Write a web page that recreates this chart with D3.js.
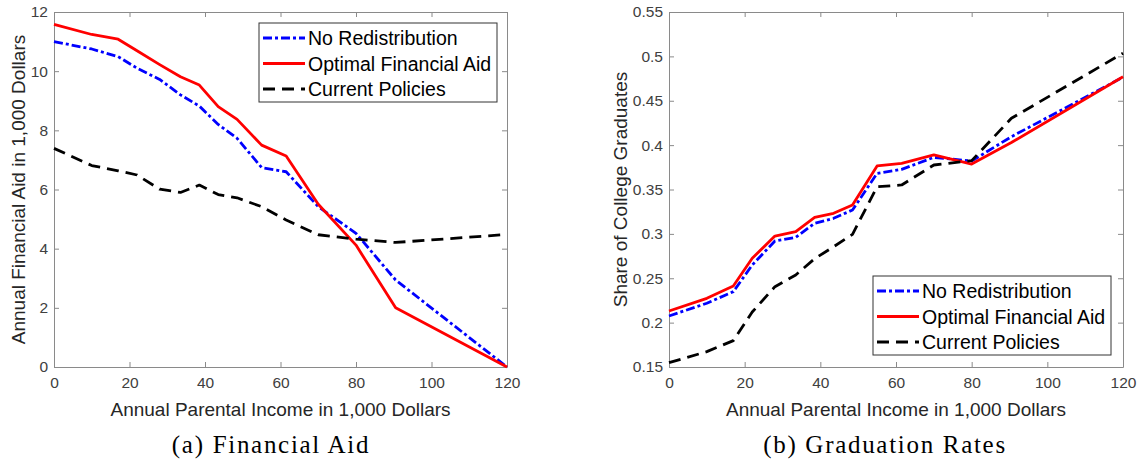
<!DOCTYPE html>
<html>
<head>
<meta charset="utf-8">
<script src="https://cdn.jsdelivr.net/npm/d3@7"></script>
<style>
  html, body { margin: 0; padding: 0; background: #fff; }
  svg { display: block; font-family: "Liberation Sans", Arial, Helvetica, sans-serif; }
</style>
</head>
<body>
<svg id="fig" width="1139" height="463"></svg>
<script>
// Parental income (thousand dollars) at which each series is evaluated
const income = [0, 10, 17, 22, 28, 33.5, 38.5, 43.5, 48.5, 55, 61.5, 70, 80, 90.5, 120];

// Panel (a): annual financial aid, thousand dollars
const aidNoRedistribution = [11.0, 10.75, 10.49, 10.1, 9.72, 9.2, 8.82, 8.2, 7.73, 6.74, 6.6, 5.42, 4.52, 2.94, 0];
const aidOptimal          = [11.58, 11.24, 11.08, 10.69, 10.22, 9.81, 9.53, 8.8, 8.37, 7.5, 7.13, 5.5, 4.12, 2.0, 0];
const aidCurrent          = [7.39, 6.81, 6.63, 6.49, 6.01, 5.9, 6.15, 5.83, 5.72, 5.42, 4.97, 4.47, 4.32, 4.21, 4.48];

// Panel (b): share of college graduates
const gradNoRedistribution = [0.2075, 0.2218, 0.2349, 0.2649, 0.292, 0.2961, 0.3119, 0.3175, 0.3269, 0.3682, 0.3727, 0.3862, 0.3821, 0.4095, 0.4765];
const gradOptimal          = [0.2131, 0.2274, 0.2413, 0.2725, 0.2976, 0.3025, 0.3187, 0.3232, 0.3325, 0.3765, 0.3795, 0.3889, 0.3787, 0.403, 0.477];
const gradCurrent          = [0.1549, 0.1673, 0.1797, 0.212, 0.2405, 0.2537, 0.272, 0.2855, 0.2995, 0.3531, 0.3551, 0.3776, 0.3825, 0.4302, 0.5036];

const seriesNames = ["No Redistribution", "Optimal Financial Aid", "Current Policies"];

const xTicks = [0, 20, 40, 60, 80, 100, 120];
const aidTicks = [0, 2, 4, 6, 8, 10, 12];
const gradTicks = [0.15, 0.2, 0.25, 0.3, 0.35, 0.4, 0.45, 0.5, 0.55];

// Line styles, in series order
const lineStyles = [
  { color: "#0000ff", dash: "9,3,3,3", width: 2.8 },
  { color: "#ff0000", dash: null,      width: 2.8 },
  { color: "#000000", dash: "12,7",    width: 2.8 }
];

const svg = d3.select("#fig");
const axisColor = "#8a8a8a";
const tickTextColor = "#404040";

function drawPanel(cfg) {
  const { left, top, right, bottom } = cfg.box;
  const x = d3.scaleLinear().domain([0, 120]).range([left, right]);
  const y = d3.scaleLinear().domain(cfg.yDomain).range([bottom, top]);
  const g = svg.append("g");

  const styleAxis = sel => {
    sel.select(".domain").attr("stroke", axisColor).attr("stroke-width", 1);
    sel.selectAll(".tick line").attr("stroke", axisColor).attr("stroke-width", 1);
    sel.selectAll(".tick text").attr("fill", tickTextColor)
      .style("font-size", "15.5px").style("font-family", "'Liberation Sans', Arial, sans-serif");
  };

  // bottom / left axes with labels, ticks pointing inward
  g.append("g").attr("transform", `translate(0,${bottom})`)
    .call(d3.axisBottom(x).tickValues(xTicks).tickFormat(d3.format("d"))
      .tickSizeInner(-5).tickSizeOuter(0).tickPadding(10))
    .call(styleAxis);
  g.append("g").attr("transform", `translate(${left},0)`)
    .call(d3.axisLeft(y).tickValues(cfg.yTicks).tickFormat(cfg.yFormat)
      .tickSizeInner(-5).tickSizeOuter(0).tickPadding(6))
    .call(styleAxis);
  // top / right box edges with inward ticks
  g.append("g").attr("transform", `translate(0,${top})`)
    .call(d3.axisTop(x).tickValues(xTicks).tickFormat("").tickSizeInner(-5).tickSizeOuter(0))
    .call(styleAxis);
  g.append("g").attr("transform", `translate(${right},0)`)
    .call(d3.axisRight(y).tickValues(cfg.yTicks).tickFormat("").tickSizeInner(-5).tickSizeOuter(0))
    .call(styleAxis);

  // series lines
  const line = d3.line().x(d => x(d[0])).y(d => y(d[1]));
  cfg.series.forEach((vals, i) => {
    const st = lineStyles[i];
    g.append("path")
      .datum(income.map((v, k) => [v, vals[k]]))
      .attr("d", line)
      .attr("fill", "none")
      .attr("stroke", st.color)
      .attr("stroke-width", st.width)
      .attr("stroke-linejoin", "round")
      .attr("stroke-dasharray", st.dash);
  });

  // axis titles
  g.append("text")
    .attr("x", (left + right) / 2).attr("y", 416)
    .attr("text-anchor", "middle")
    .attr("fill", "#262626").style("font-size", "19px")
    .text("Annual Parental Income in 1,000 Dollars");
  g.append("text")
    .attr("transform", `translate(${cfg.yLabelX},${(top + bottom) / 2}) rotate(-90)`)
    .attr("text-anchor", "middle")
    .attr("dominant-baseline", "central")
    .attr("fill", "#262626").style("font-size", "19px")
    .text(cfg.yLabel);

  // legend
  const lg = cfg.legend;
  const lgW = 238, lgH = 79;
  const lx = lg.right - lgW;
  const ly = lg.top;
  const leg = g.append("g");
  leg.append("rect").attr("x", lx).attr("y", ly).attr("width", lgW).attr("height", lgH)
    .attr("fill", "#fff").attr("stroke", "#333").attr("stroke-width", 1);
  seriesNames.forEach((name, i) => {
    const cy = ly + 15 + i * 25.5;
    const st = lineStyles[i];
    leg.append("line").attr("x1", lx + 4).attr("x2", lx + 46).attr("y1", cy).attr("y2", cy)
      .attr("stroke", st.color).attr("stroke-width", st.width).attr("stroke-dasharray", st.dash);
    leg.append("text").attr("x", lx + 49).attr("y", cy)
      .attr("dominant-baseline", "central")
      .attr("fill", "#000").style("font-size", "19.5px")
      .text(name);
  });

  // caption
  g.append("text")
    .attr("x", cfg.captionX).attr("y", 453)
    .attr("text-anchor", "middle")
    .attr("fill", "#000")
    .style("font-family", "'Liberation Serif', 'Times New Roman', serif")
    .style("font-size", "25px")
    .style("letter-spacing", "1.7px")
    .text(cfg.caption);
}

drawPanel({
  box: { left: 54, top: 12, right: 507, bottom: 367 },
  yDomain: [0, 12],
  yTicks: aidTicks,
  yFormat: d3.format("d"),
  yLabel: "Annual Financial Aid in 1,000 Dollars",
  yLabelX: 18,
  series: [aidNoRedistribution, aidOptimal, aidCurrent],
  legend: { right: 497, top: 23 },
  caption: "(a) Financial Aid",
  captionX: 271
});

drawPanel({
  box: { left: 669, top: 12, right: 1123, bottom: 367 },
  yDomain: [0.15, 0.55],
  yTicks: gradTicks,
  yFormat: d => String(d),
  yLabel: "Share of College Graduates",
  yLabelX: 620,
  series: [gradNoRedistribution, gradOptimal, gradCurrent],
  legend: { right: 1111, top: 276 },
  caption: "(b) Graduation Rates",
  captionX: 885
});
</script>
</body>
</html>
